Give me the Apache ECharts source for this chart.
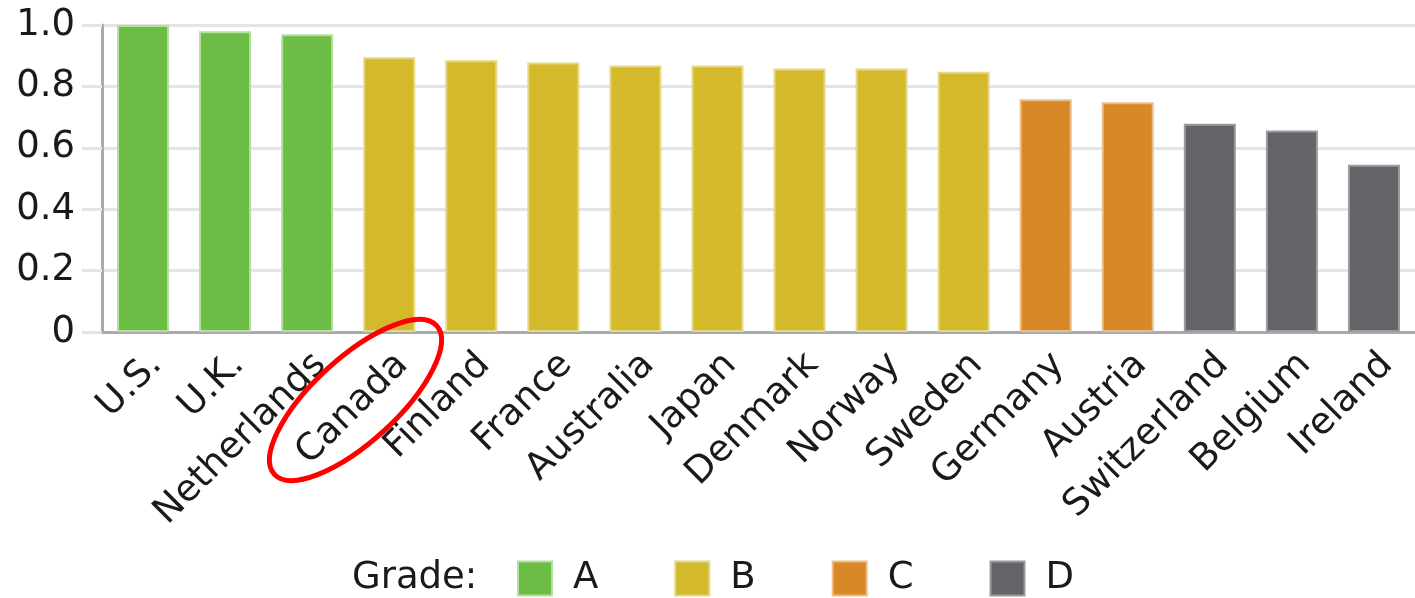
<!DOCTYPE html>
<html>
<head>
<meta charset="utf-8">
<script src="https://cdn.jsdelivr.net/npm/echarts@6/dist/echarts.min.js"></script>
<style>
html,body{margin:0;padding:0;background:#fff;}
#chart{width:1415px;height:598px;}
</style>
</head>
<body>
<div id="chart"></div>
<script>
const categories = ['U.S.','U.K.','Netherlands','Canada','Finland','France','Australia','Japan','Denmark','Norway','Sweden','Germany','Austria','Switzerland','Belgium','Ireland'];
const values = [1.0, 0.98, 0.97, 0.895, 0.885, 0.878, 0.868, 0.868, 0.858, 0.858, 0.848, 0.758, 0.748, 0.678, 0.656, 0.545];
const grades = ['A','A','A','B','B','B','B','B','B','B','B','C','C','D','D','D'];
const gradeNames = ['A','B','C','D'];
const gradeColors = {A:'#6BBD45', B:'#D4BA2A', C:'#D88826', D:'#636468'};
const gradeBorders = {A:'#b5df9f', B:'#e6d783', C:'#ebbd86', D:'#9a9b9e'};
const yTickLabels = ['0','0.2','0.4','0.6','0.8','1.0'];
const legendTitle = 'Grade:';

const FONT = 'DejaVu Sans';
const series = gradeNames.map(g => ({
  name: g,
  type: 'bar',
  barWidth: 52,
  barGap: '-100%',
  itemStyle: {color: gradeColors[g], borderColor: gradeBorders[g], borderWidth: 2},
  data: values.map((v, i) => grades[i] === g ? v : '-')
}));

const chart = echarts.init(document.getElementById('chart'));
chart.setOption({
  animation: false,
  backgroundColor: '#fff',
  grid: {left: 102, top: 25, height: 307, width: 1323, containLabel: false},
  xAxis: {
    type: 'category',
    data: categories,
    axisLine: {lineStyle: {color: '#aaaaaa', width: 3}},
    axisTick: {show: false},
    axisLabel: {rotate: 45, interval: 0, margin: 14, verticalAlign: 'top', color: '#1a1a1a', fontFamily: FONT, fontSize: 37}
  },
  yAxis: {
    type: 'value',
    min: 0, max: 1, interval: 0.2,
    axisLine: {show: true, lineStyle: {color: '#aaaaaa', width: 3}},
    axisTick: {show: true, length: 20, lineStyle: {color: '#e4e4e4', width: 3}},
    splitLine: {lineStyle: {color: '#e4e4e4', width: 3}},
    axisLabel: {margin: 27, color: '#1a1a1a', fontFamily: FONT, fontSize: 37,
      formatter: (v, i) => yTickLabels[i]}
  },
  legend: {
    data: gradeNames,
    left: 517, top: 560,
    icon: 'rect',
    itemWidth: 34, itemHeight: 34,
    itemGap: 76,
    padding: 0,
    textStyle: {fontFamily: FONT, fontSize: 37, color: '#1a1a1a', padding: [0,0,0,16]}
  },
  graphic: [
    {type: 'text', x: 352, y: 578, style: {text: legendTitle, font: '37px "DejaVu Sans"', fill: '#1a1a1a', verticalAlign: 'middle', align: 'left'}},
    {type: 'ellipse', x: 355.5, y: 400, rotation: 42.5 * Math.PI / 180, shape: {cx: 0, cy: 0, rx: 110, ry: 42},
     style: {fill: 'none', stroke: '#ff0000', lineWidth: 5}, z: 100}
  ],
  series: series
});
</script>
</body>
</html>
